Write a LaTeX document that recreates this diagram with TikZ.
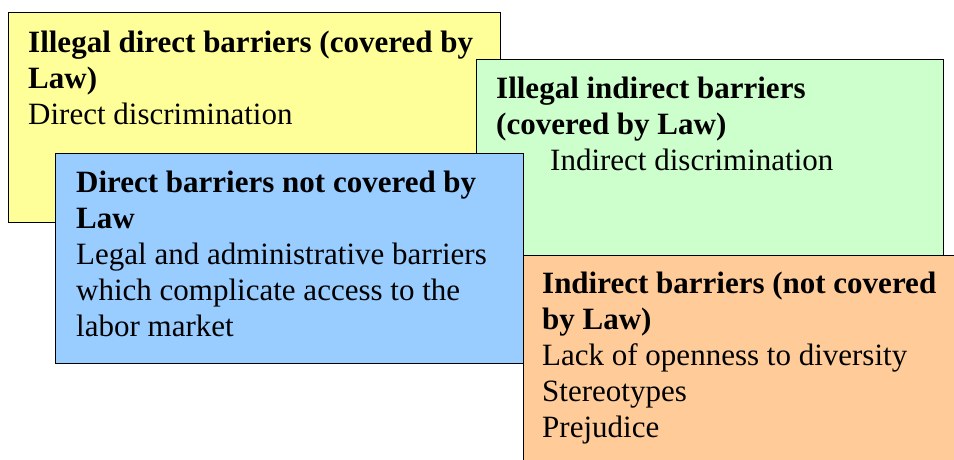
\documentclass[tikz,border=0pt]{standalone}
\usepackage{fontspec}
\setmainfont{Liberation Serif}
\usetikzlibrary{positioning}
\definecolor{lawyellow}{RGB}{255,255,153}
\definecolor{lawgreen}{RGB}{204,255,204}
\definecolor{lawblue}{RGB}{153,204,255}
\definecolor{laworange}{RGB}{255,204,153}

\begin{document}
\begin{tikzpicture}[x=1pt, y=-1pt,
    panel/.style={draw=black, line width=1.2pt, anchor=north west, inner sep=0pt},
    blurb/.style={anchor=north west, align=left, inner sep=0pt,
                  font=\fontsize{31}{36}\selectfont}
]
\clip (0,0) rectangle (954,460);

% the four barrier boxes, back to front
\node[panel, fill=lawyellow, minimum width=492pt, minimum height=210pt] (illegaldirect) at (8,12) {};
\node[panel, fill=lawgreen, minimum width=467pt, minimum height=205pt] (illegalindirect) at (476,59) {};
\node[panel, fill=lawblue, minimum width=468pt, minimum height=210pt] (directnotlaw) at (55,153) {};
\node[panel, fill=laworange, minimum width=460pt, minimum height=240pt] (indirectnotlaw) at (523,255) {};

% texts
\node[blurb, below right=18.5pt and 20pt of illegaldirect.north west] (t1)
  {\textbf{Illegal direct barriers (covered by}\\ \textbf{Law)}\\ Direct discrimination};
\node[blurb, below right=17.5pt and 20pt of illegalindirect.north west] (t2)
  {\textbf{Illegal indirect barriers}\\ \textbf{(covered by Law)}\\ \hspace*{54pt}Indirect discrimination};
\node[blurb, below right=17.5pt and 21pt of directnotlaw.north west] (t3)
  {\textbf{Direct barriers not covered by}\\ \textbf{Law}\\ Legal and administrative barriers\\
   which complicate access to the\\ labor market};
\node[blurb, below right=16.5pt and 19pt of indirectnotlaw.north west] (t4)
  {\textbf{Indirect barriers (not covered}\\ \textbf{by Law)}\\ Lack of openness to diversity\\
   Stereotypes\\ Prejudice};
\end{tikzpicture}
\end{document}
